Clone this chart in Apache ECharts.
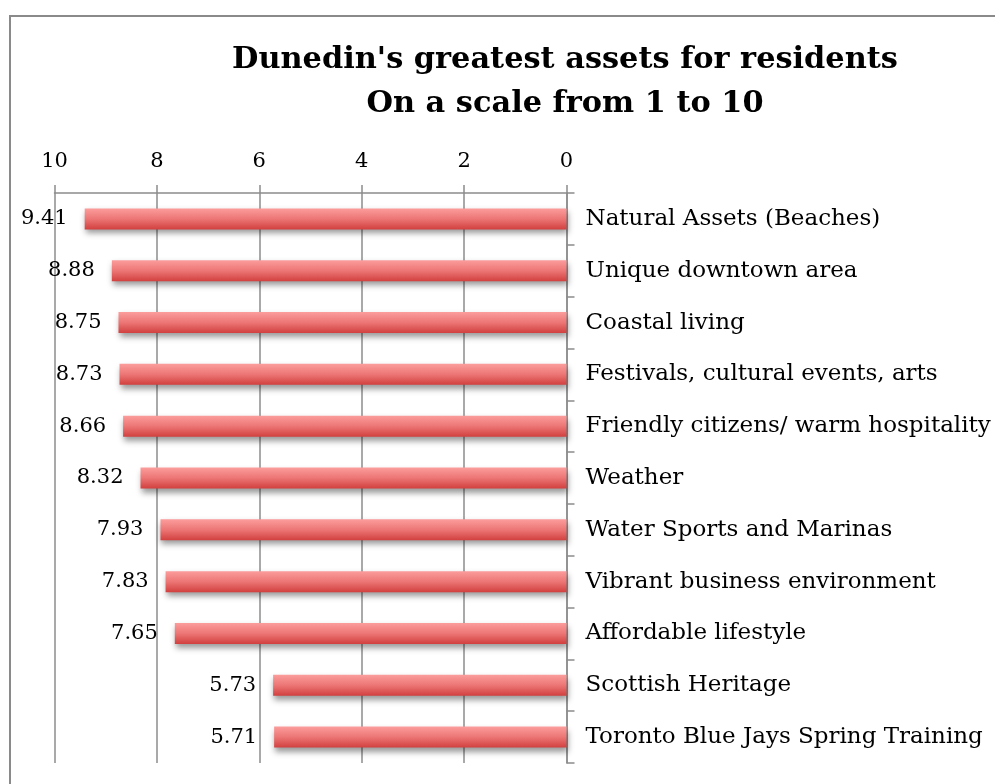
<!DOCTYPE html>
<html>
<head>
<meta charset="utf-8">
<script src="https://cdn.jsdelivr.net/npm/echarts@6/dist/echarts.min.js"></script>
<style>
  html, body { margin: 0; padding: 0; background: #fff; }
  #chart { width: 995px; height: 784px; }
</style>
</head>
<body>
<div id="chart"></div>
<script>
const categories = [
  'Natural Assets (Beaches)',
  'Unique downtown area',
  'Coastal living',
  'Festivals, cultural events, arts',
  'Friendly citizens/ warm hospitality',
  'Weather',
  'Water Sports and Marinas',
  'Vibrant business environment',
  'Affordable lifestyle',
  'Scottish Heritage',
  'Toronto Blue Jays Spring Training'
];
const scores = [9.41, 8.88, 8.75, 8.73, 8.66, 8.32, 7.93, 7.83, 7.65, 5.73, 5.71];
const tickValues = [0, 2, 4, 6, 8, 10];

const chart = echarts.init(document.getElementById('chart'));
const font = 'DejaVu Serif';

const option = {
  animation: false,
  title: {
    text: "Dunedin's greatest assets for residents\nOn a scale from 1 to 10",
    left: 560,
    top: 33,
    textAlign: 'center',
    textStyle: {
      fontFamily: font,
      fontWeight: 'bold',
      fontSize: 30.4,
      lineHeight: 44,
      color: '#000'
    }
  },
  graphic: [{
    type: 'rect',
    shape: { x: 10, y: 16, width: 1000, height: 800 },
    style: { fill: 'none', stroke: '#8a8a8a', lineWidth: 2 },
    z: -1
  }],
  grid: { left: 54.5, right: 428.5, top: 193, bottom: 21 },
  xAxis: {
    type: 'value',
    position: 'top',
    inverse: true,
    min: tickValues[0],
    max: tickValues[tickValues.length - 1],
    interval: 2,
    axisLine: { show: true, lineStyle: { color: '#8c8c8c', width: 1.5 } },
    axisTick: { show: true, length: 8, lineStyle: { color: '#8c8c8c', width: 1.5 } },
    splitLine: { show: true, lineStyle: { color: '#8c8c8c', width: 1.5 } },
    axisLabel: { fontFamily: font, fontSize: 21, color: '#000', margin: 21 }
  },
  yAxis: {
    type: 'category',
    position: 'right',
    inverse: true,
    data: categories,
    axisLine: { show: true, lineStyle: { color: '#8c8c8c', width: 1.5 } },
    axisTick: { show: true, length: 8, lineStyle: { color: '#8c8c8c', width: 1.5 } },
    axisLabel: { fontFamily: font, fontSize: 23, color: '#000', margin: 19, padding: [3, 0, 0, 0] }
  },
  series: [{
    type: 'bar',
    data: scores,
    barWidth: 21,
    itemStyle: {
      color: new echarts.graphic.LinearGradient(0, 0, 0, 1, [
        { offset: 0, color: '#fb9d9c' },
        { offset: 0.5, color: '#ec7675' },
        { offset: 1, color: '#d1403f' }
      ]),
      shadowColor: 'rgba(0,0,0,0.4)',
      shadowBlur: 6,
      shadowOffsetX: 1,
      shadowOffsetY: 4
    },
    label: {
      show: true,
      position: 'left',
      distance: 17,
      fontFamily: font,
      fontSize: 21,
      color: '#000',
      formatter: p => p.value.toFixed(2)
    }
  }]
};

chart.setOption(option);
</script>
</body>
</html>
